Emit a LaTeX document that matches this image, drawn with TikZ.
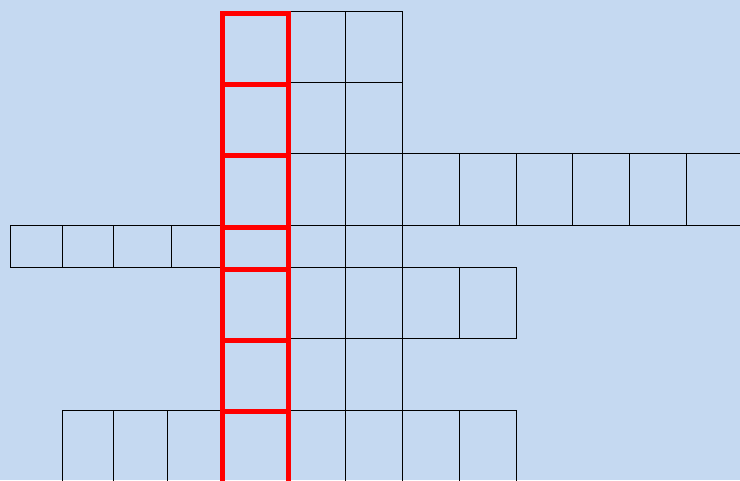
\documentclass[tikz,border=0pt]{standalone}
\usepackage{tikz}
\definecolor{paleblue}{RGB}{197,217,241}

\begin{document}
\begin{tikzpicture}[
  x=1pt, y=-1pt,
  cell/.style={draw=black, line width=1pt},
  answer/.style={draw=red, line width=5pt}
]
  \useasboundingbox (0,0) rectangle (740,480);
  \fill[paleblue] (0,0) rectangle (740,480);
  \clip (0,0) rectangle (740,480);

  % word rows
  \foreach \xa/\xb in {288/345, 345/402}
    \draw[cell] (\xa,11) rectangle (\xb,82);
  \foreach \xa/\xb in {288/345, 345/402}
    \draw[cell] (\xa,82) rectangle (\xb,153);
  \foreach \xa/\xb in {288/345, 345/402, 402/459, 459/516, 516/572,
                       572/629, 629/686, 686/743}
    \draw[cell] (\xa,153) rectangle (\xb,225);
  \foreach \xa/\xb in {10/62, 62/113, 113/171, 171/222, 222/288,
                       288/345, 345/402}
    \draw[cell] (\xa,225) rectangle (\xb,267);
  \foreach \xa/\xb in {288/345, 345/402, 402/459, 459/516}
    \draw[cell] (\xa,267) rectangle (\xb,338);
  \foreach \xa/\xb in {288/345, 345/402}
    \draw[cell] (\xa,338) rectangle (\xb,410);
  \foreach \xa/\xb in {62/113, 113/167, 167/222, 222/288,
                       288/345, 345/402, 402/459, 459/516}
    \draw[cell] (\xa,410) rectangle (\xb,490);

  % keyword column
  \foreach \ya/\yb in {13.5/84.5, 84.5/155.5, 155.5/227, 227/269.5,
                       269.5/340.5, 340.5/411.5, 411.5/490}
    \draw[answer] (222.5,\ya) rectangle (288.5,\yb);
\end{tikzpicture}
\end{document}
